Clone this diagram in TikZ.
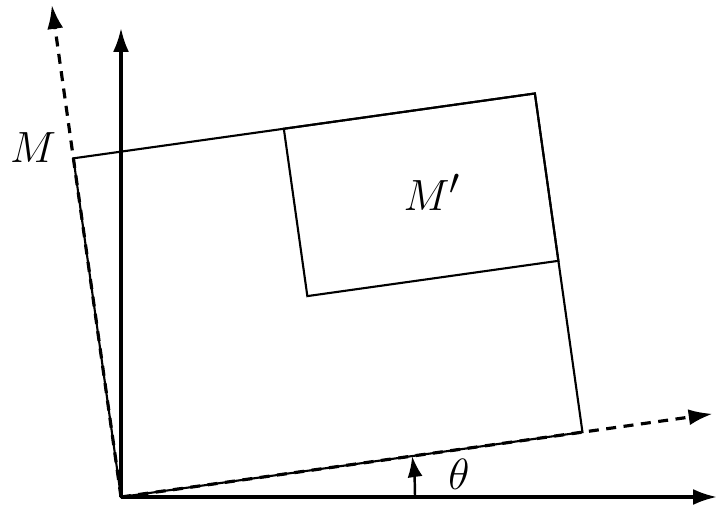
\documentclass[tikz,border=0pt]{standalone}
\usepackage{amsmath,amssymb}
\usetikzlibrary{arrows.meta}

\tikzset{
  axis/.style={line width=1.8pt, -{Latex[length=0.48cm, width=0.32cm]}},
  rotaxis/.style={axis, dash pattern=on 0.2cm off 0.15cm},
  frame/.style={line width=1.2pt},
}

\begin{document}
\begin{tikzpicture}
  \useasboundingbox (-2.42,-0.22) rectangle (11.98,9.94);

  % Origin and axis ends
  \coordinate (O) at (0,0);
  \coordinate (X) at (11.92,0);
  \coordinate (Y) at (0,9.38);
  \coordinate (Xr) at (8:11.95);
  \coordinate (Yr) at (98:9.94);

  % Rectangles in the rotated frame
  \begin{scope}[rotate=8]
    \draw[frame] (0,0) rectangle (9.32,6.84);
    \draw[frame] (4.25,3.46) rectangle (9.32,6.84);
    \coordinate (Mp) at (7.01,5.17);
  \end{scope}

  % Axes
  \draw[axis] (O) -- (X);
  \draw[axis] (O) -- (Y);
  \draw[rotaxis] (O) -- (Xr);
  \draw[rotaxis] (O) -- (Yr);

  % Angle
  \draw[line width=1.4pt, -{Latex[length=0.42cm, width=0.3cm]}] (5.88,0) arc[start angle=0, end angle=8, radius=5.88];
  \node[font=\fontsize{27}{31}\selectfont] (theta) at (6.76,0.46) {$\theta$};

  % Labels
  \node[font=\fontsize{27}{31}\selectfont] (M) at (-1.76,6.98) {$M$};
  \node[font=\fontsize{31}{36}\selectfont] (Mprime) at (Mp) {$M'$};
\end{tikzpicture}
\end{document}
